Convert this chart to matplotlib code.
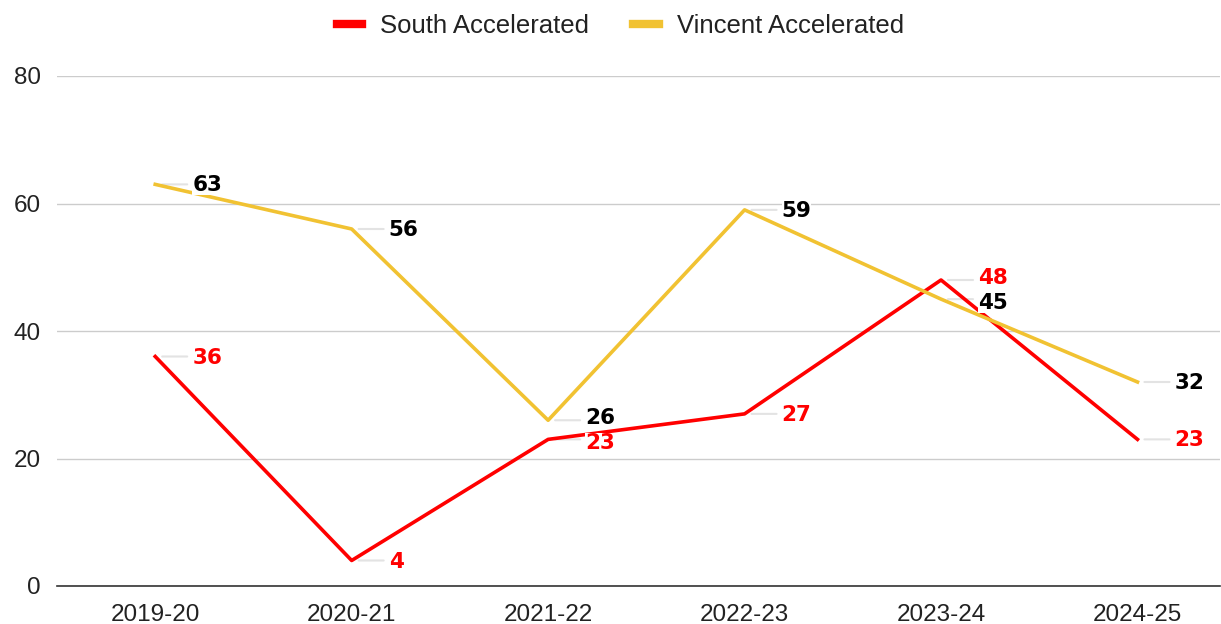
import matplotlib.pyplot as plt

plt.rcParams["font.family"] = ["Liberation Sans", "DejaVu Sans"]

years = ["2019-20", "2020-21", "2021-22", "2022-23", "2023-24", "2024-25"]
south = [36, 4, 23, 27, 48, 23]
vincent = [63, 56, 26, 59, 45, 32]

red = "#ff0000"
gold = "#f1c232"

fig = plt.figure(figsize=(12.21, 6.24), dpi=100)
ax = fig.add_axes([57 / 1221, 38 / 624, (1220 - 57) / 1221, 510 / 624])

x = list(range(len(years)))
ax.plot(x, south, color=red, lw=2.6, label="South Accelerated", zorder=3)
ax.plot(x, vincent, color=gold, lw=2.6, label="Vincent Accelerated", zorder=3)

# data labels with light leader lines, like Google Sheets
for series, other, col in [(south, vincent, red), (vincent, south, "black")]:
    for xi, v, o in zip(x, series, other):
        # nudge labels apart a little where the two series sit close together
        dy = 0
        if abs(v - o) < 5:
            dy = 3 if v > o else -3
        ax.annotate("", xy=(xi, v), xytext=(32, 0), textcoords="offset pixels",
                    arrowprops=dict(arrowstyle="-", color="#e3e3e3", lw=1.5,
                                    shrinkA=0, shrinkB=5), zorder=1)
        ax.annotate(str(v), xy=(xi, v), xytext=(37, dy - 1), textcoords="offset pixels",
                    ha="left", va="center", color=col, fontsize=15.5, fontweight="bold",
                    family=["DejaVu Sans"],
                    bbox=dict(boxstyle="square,pad=0.0", fc="white", ec="none"),
                    zorder=4)

ax.set_xlim(-0.5, 5.42)
ax.set_ylim(0, 80)
ax.set_yticks([0, 20, 40, 60, 80])
ax.set_xticks(x)
ax.set_xticklabels(years)
ax.tick_params(length=0, labelsize=17.5, colors="#222222", pad=13)
ax.tick_params(axis="y", pad=11.5)
ax.grid(axis="y", color="#cccccc", lw=1)
ax.set_axisbelow(True)
for s in ["top", "right", "left"]:
    ax.spines[s].set_visible(False)
ax.spines["bottom"].set_color("#333333")
ax.spines["bottom"].set_linewidth(1.2)

fig.legend(loc="upper center", bbox_to_anchor=(0.508, 1.015), ncol=2, frameon=False,
           fontsize=18.5, handlelength=1.0, handletextpad=0.7, columnspacing=1.7,
           labelcolor="#222222")
for h in fig.legends[0].legend_handles:
    h.set_linewidth(6)

fig.savefig("out.png", dpi=100)
